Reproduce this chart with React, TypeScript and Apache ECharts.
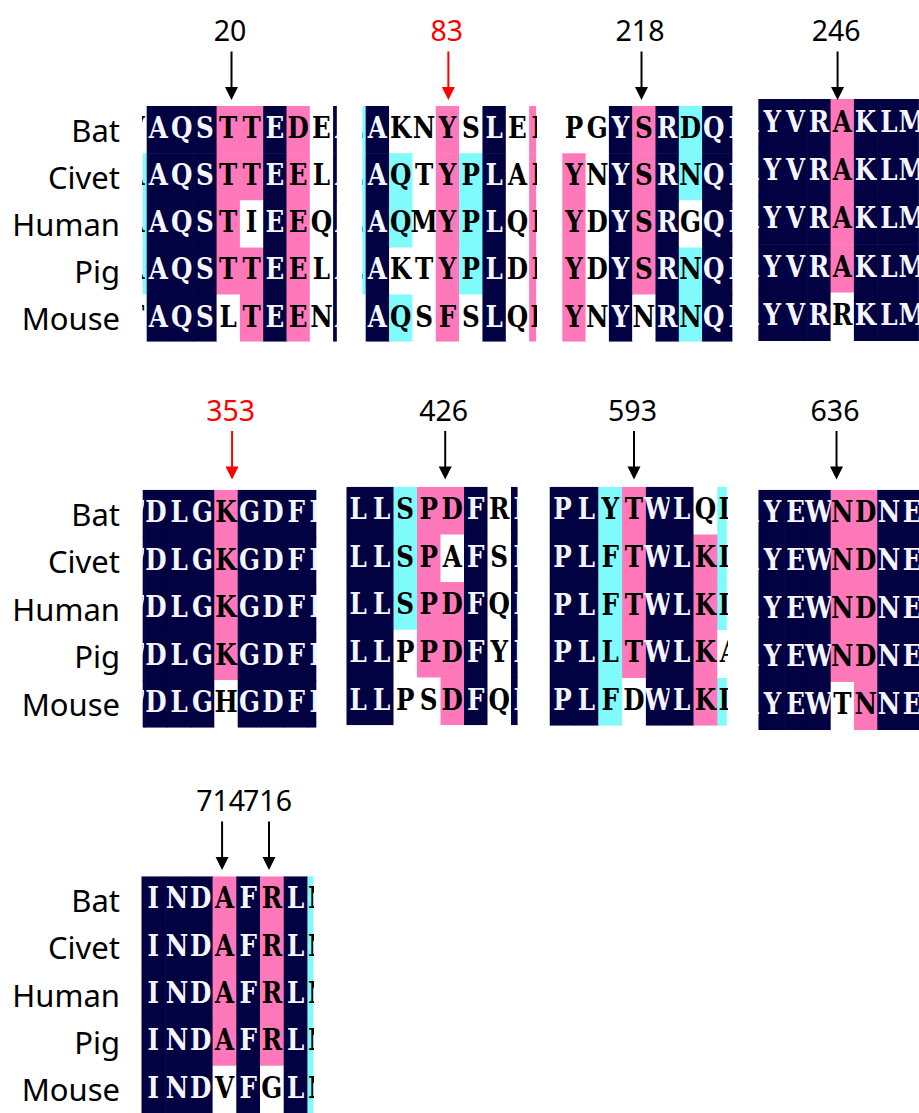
import React, { useEffect, useRef } from "react";
import * as echarts from "echarts";

// ---------- data ----------
const species = ["Bat", "Civet", "Human", "Pig", "Mouse"];

// shading codes: N = identical (navy), P = >=75% (pink), C = >=50% (cyan), W = none
// each sequence string = clipped left column + full columns + clipped right column
const p1Sites = ["20"];
const p1Arrows = [3.64];
const p1Seq = ["VAQSTTEDEA", "AAQSTTEELA", "AAQSTIEEQA", "AAQSTTEELA", "TAQSLTEENA"];
const p1Shade = ["WNNNPPNPWN", "CNNNPPNPWN", "CNNNPWNPWN", "CNNNPPNPWN", "WNNNWPNPWN"];

const p2Sites = ["83"];
const p2Arrows = [3.54];
const p2Seq = ["LAKNYSLEE", "LAQTYPLAE", "LAQMYPLQE", "LAKTYPLDE", "SAQSFSLQD"];
const p2Shade = ["CNWWPWNWP", "CNCWPCNWP", "CNCWPCNWP", "CNWWPCNWP", "WNCWPWNWP"];

const p3Sites = ["218"];
const p3Arrows = [3.4];
const p3Seq = ["GPGYSRDQL", "GYNYSRNQL", "GYDYSRGQL", "GYDYSRNQL", "GYNYNRNQL"];
const p3Shade = ["WWWNPNCNN", "WPWNPNCNN", "WPWNPNWNN", "WPWNPNCNN", "WPWNWNCNN"];

const p4Sites = ["246"];
const p4Arrows = [3.3];
const p4Seq = ["AYVRAKLM", "AYVRAKLM", "AYVRAKLM", "AYVRAKLM", "AYVRRKLM"];
const p4Shade = ["NNNNPNNN", "NNNNPNNN", "NNNNPNNN", "NNNNPNNN", "NNNNWNNN"];

const p5Sites = ["353"];
const p5Arrows = [3.76];
const p5Seq = ["WDLGKGDFR", "WDLGKGDFR", "WDLGKGDFR", "WDLGKGDFR", "WDLGHGDFR"];
const p5Shade = ["NNNNPNNNN", "NNNNPNNNN", "NNNNPNNNN", "NNNNPNNNN", "NNNNWNNNN"];

const p6Sites = ["426"];
const p6Arrows = [4.2];
const p6Seq = ["GLLSPDFRE", "GLLSPAFSE", "GLLSPDFQE", "GLLPPDFYE", "GLLPSDFQE"];
const p6Shade = ["WNNCPPNWN", "WNNCPWNWN", "WNNCPPNWN", "WNNWPPNWN", "WNNWWPNWN"];

const p7Sites = ["593"];
const p7Arrows = [3.5];
const p7Seq = ["EPLYTWLQD", "EPLFTWLKD", "EPLFTWLKD", "EPLLTWLKA", "EPLFDWLKD"];
const p7Shade = ["NNNCPNNWC", "NNNCPNNPC", "NNNCPNNPC", "NNNCPNNPW", "NNNCWNNPC"];

const p8Sites = ["636"];
const p8Arrows = [3.25];
const p8Seq = ["AYEWNDNE", "AYEWNDNE", "AYEWNDNE", "AYEWNDNE", "AYEWTNNE"];
const p8Shade = ["NNNNPPNN", "NNNNPPNN", "NNNNPPNN", "NNNNPPNN", "NNNNWPNN"];

const p9Sites = ["714", "716"];
const p9Arrows = [3.4, 5.38];
const p9Seq = ["RINDAFRLN", "RINDAFRLN", "RINDAFRLN", "RINDAFRLN", "RINDVFGLN"];
const p9Shade = ["WNNNPNPNC", "WNNNPNPNC", "WNNNPNPNC", "WNNNPNPNC", "WNNNWNWNC"];

// ---------- styling / layout ----------
const SHADE: Record<string, string> = {
  N: "#020141",
  P: "#ff79ba",
  C: "#80fbfb",
  W: "#ffffff",
};
const RED = "#ff0000";
const BLACK = "#000000";
const ROW_REF = [106, 485.5, 876];
const LABEL_RIGHT = 120;

const panels = [
  { sites: p1Sites, arrows: p1Arrows, seq: p1Seq, shade: p1Shade, color: BLACK, row: 0, first: true, c0: 146.7, cw: 23.3, lf: 0.17, rf: 0.16, top: 106, h: 235.7 },
  { sites: p2Sites, arrows: p2Arrows, seq: p2Seq, shade: p2Shade, color: RED, row: 0, first: false, c0: 365.7, cw: 23.35, lf: 0.14, rf: 0.3, top: 106, h: 235.7 },
  { sites: p3Sites, arrows: p3Arrows, seq: p3Seq, shade: p3Shade, color: BLACK, row: 0, first: false, c0: 562.3, cw: 23.3, lf: 0, rf: 0.3, top: 106, h: 235.7 },
  { sites: p4Sites, arrows: p4Arrows, seq: p4Seq, shade: p4Shade, color: BLACK, row: 0, first: false, c0: 760.7, cw: 23.3, lf: 0.1, rf: 0.79, top: 99, h: 242 },
  { sites: p5Sites, arrows: p5Arrows, seq: p5Seq, shade: p5Shade, color: RED, row: 1, first: true, c0: 144.1, cw: 23.4, lf: 0.06, rf: 0.36, top: 489.7, h: 238 },
  { sites: p6Sites, arrows: p6Arrows, seq: p6Seq, shade: p6Shade, color: BLACK, row: 1, first: false, c0: 346.5, cw: 23.5, lf: 0, rf: 0.28, top: 486.7, h: 238.5 },
  { sites: p7Sites, arrows: p7Arrows, seq: p7Seq, shade: p7Shade, color: BLACK, row: 1, first: false, c0: 550.7, cw: 23.8, lf: 0.04, rf: 0.4, top: 486.7, h: 239 },
  { sites: p8Sites, arrows: p8Arrows, seq: p8Seq, shade: p8Shade, color: BLACK, row: 1, first: false, c0: 760.8, cw: 23.3, lf: 0.1, rf: 0.79, top: 489.7, h: 240.3 },
  { sites: p9Sites, arrows: p9Arrows, seq: p9Seq, shade: p9Shade, color: BLACK, row: 2, first: true, c0: 141.5, cw: 23.7, lf: 0, rf: 0.25, top: 876.3, h: 237.5 },
];

function buildOption() {
  const grid: any[] = [];
  const xAxis: any[] = [];
  const yAxis: any[] = [];
  const series: any[] = [];

  panels.forEach((p, i) => {
    const nFull = p.seq[0].length - 2;
    const left = p.c0 - p.lf * p.cw;
    const width = (nFull + p.lf + p.rf) * p.cw;
    grid.push({ left, top: p.top, width, height: p.h, show: false, containLabel: false });
    xAxis.push({
      type: "value",
      gridIndex: i,
      min: -p.lf,
      max: nFull + p.rf,
      show: false,
    });
    yAxis.push({
      type: "category",
      gridIndex: i,
      data: species,
      inverse: true,
      axisLine: { show: false },
      axisTick: { show: false },
      splitLine: { show: false },
      axisLabel: {
        show: p.first,
        interval: 0,
        margin: left - LABEL_RIGHT,
        fontFamily: "Noto Sans",
        fontSize: 31,
        color: "#000",
        padding: [0, 0, 6, 0],
      },
    });

    const cells: { col: number; row: number; ch: string; shade: string }[] = [];
    p.seq.forEach((s, r) => {
      for (let k = 0; k < s.length; k++) {
        cells.push({ col: k - 1, row: r, ch: s[k], shade: p.shade[r][k] });
      }
    });

    series.push({
      type: "custom",
      xAxisIndex: i,
      yAxisIndex: i,
      clip: true,
      silent: true,
      data: cells.map((c) => [c.col, c.row]),
      renderItem: (params: any, api: any) => {
        const c = cells[params.dataIndex];
        const a = api.coord([c.col, c.row]);
        const b = api.coord([c.col + 1, c.row]);
        const h = api.size([0, 1])[1];
        const cs = params.coordSys;
        const rect = echarts.graphic.clipRectByRect(
          { x: a[0], y: a[1] - h / 2, width: b[0] - a[0] + 0.6, height: h + 0.6 },
          { x: cs.x, y: cs.y, width: cs.width, height: cs.height }
        );
        const children: any[] = [];
        if (rect) {
          children.push({
            type: "rect",
            shape: rect,
            style: { fill: SHADE[c.shade] },
          });
        }
        children.push({
          type: "text",
          x: (a[0] + b[0]) / 2,
          y: a[1] - 2.5,
          scaleX: 0.82,
          style: {
            text: c.ch,
            fill: c.shade === "N" ? "#f4f6ff" : "#000000",
            fontFamily: "DejaVu Serif",
            fontWeight: "bold",
            fontSize: 30,
            align: "center",
            verticalAlign: "middle",
          },
        });
        return { type: "group", children };
      },
    });

    series.push({
      type: "custom",
      xAxisIndex: i,
      yAxisIndex: i,
      clip: false,
      silent: true,
      data: p.arrows.map((v) => [v, 0]),
      renderItem: (params: any, api: any) => {
        const x = api.coord([api.value(0), 0])[0];
        const base = ROW_REF[p.row];
        return {
          type: "group",
          children: [
            {
              type: "text",
              x: x - 1.5,
              y: base - 76,
              style: {
                text: p.sites[params.dataIndex],
                fill: p.color,
                fontFamily: "Noto Sans",
                fontSize: 28.5,
                align: "center",
                verticalAlign: "middle",
              },
            },
            {
              type: "line",
              shape: { x1: x, y1: base - 54.5, x2: x, y2: base - 17 },
              style: { stroke: p.color, lineWidth: 2 },
            },
            {
              type: "polygon",
              shape: {
                points: [
                  [x - 6.5, base - 19],
                  [x + 6.5, base - 19],
                  [x, base - 6],
                ],
              },
              style: { fill: p.color },
            },
          ],
        };
      },
    });
  });

  return {
    animation: false,
    backgroundColor: "#ffffff",
    grid,
    xAxis,
    yAxis,
    series,
  };
}

export default function App() {
  const ref = useRef<HTMLDivElement>(null);
  useEffect(() => {
    if (!ref.current) return;
    const chart = echarts.init(ref.current, undefined, { renderer: "svg" });
    chart.setOption(buildOption() as any);
    return () => {
      chart.dispose();
    };
  }, []);
  return (
    <div
      ref={ref}
      style={{
        position: "absolute",
        left: 0,
        top: 0,
        width: 919,
        height: 1113,
        background: "#ffffff",
      }}
    />
  );
}
